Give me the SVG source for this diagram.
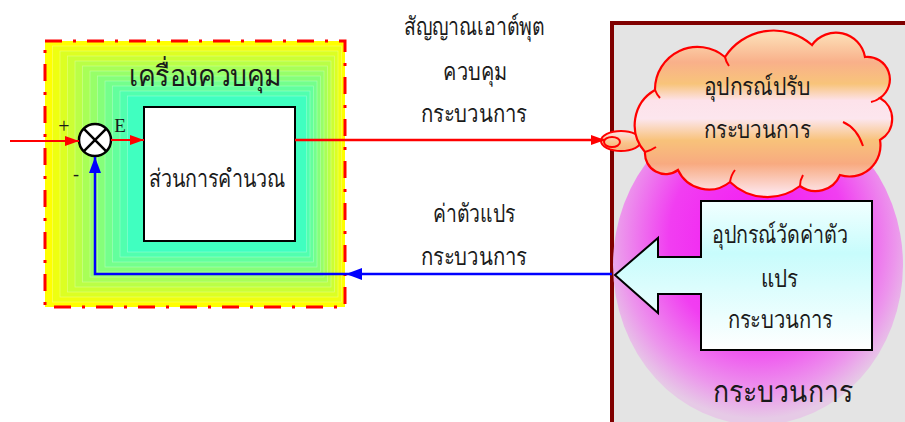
<svg xmlns="http://www.w3.org/2000/svg" width="905" height="422" viewBox="0 0 905 422">
<style>
.t{font-family:"Liberation Serif","DejaVu Serif",serif;fill:#1a1a1a;text-anchor:middle}
.band{stroke:#ffffff;stroke-opacity:0.35;stroke-width:0.7}
</style>
<defs>
<radialGradient id="mag" cx="0.5" cy="0.42" r="0.56">
<stop offset="0" stop-color="#f414f4"/>
<stop offset="0.55" stop-color="#f13ef1"/>
<stop offset="0.85" stop-color="#ec96ec"/>
<stop offset="1" stop-color="#e6cae6"/>
</radialGradient>
<linearGradient id="cloudg" x1="0" y1="0" x2="0" y2="1">
<stop offset="0.03" stop-color="#fcdcb4"/>
<stop offset="0.19" stop-color="#f9b08a"/>
<stop offset="0.32" stop-color="#f8c47a"/>
<stop offset="0.42" stop-color="#fde2ea"/>
<stop offset="0.53" stop-color="#fce6ee"/>
<stop offset="0.66" stop-color="#f8c27a"/>
<stop offset="0.8" stop-color="#f8aa80"/>
<stop offset="0.97" stop-color="#fde2e6"/>
</linearGradient>
<linearGradient id="bubg" x1="0" y1="0" x2="0" y2="1">
<stop offset="0" stop-color="#fde2ea"/>
<stop offset="0.6" stop-color="#f9c48a"/>
<stop offset="1" stop-color="#f8b080"/>
</linearGradient>
<linearGradient id="cyan" x1="0" y1="0" x2="0" y2="1">
<stop offset="0" stop-color="#f2ffff"/>
<stop offset="0.35" stop-color="#c8fcfc"/>
<stop offset="1" stop-color="#ffffff"/>
</linearGradient>
<marker id="ar" viewBox="0 0 14 10" refX="14" refY="5" markerWidth="14" markerHeight="10" markerUnits="userSpaceOnUse" orient="auto">
<path d="M0,0 L14,5 L0,10 Z" fill="#ff0000"/>
</marker>
<marker id="ab" viewBox="0 0 16 12" refX="16" refY="6" markerWidth="16" markerHeight="12" markerUnits="userSpaceOnUse" orient="auto">
<path d="M0,0 L16,6 L0,12 Z" fill="#0000ff"/>
</marker>
</defs>

<g id="controller">
<rect x="45" y="41" width="300" height="266" fill="#ffff00"/>
<rect class="band" x="52.5" y="46" width="289" height="256" fill="#eeff11"/>
<rect class="band" x="60" y="51" width="278" height="246" fill="#dcff23"/>
<rect class="band" x="67.5" y="56" width="267" height="236" fill="#cbff34"/>
<rect class="band" x="75" y="61" width="256" height="226" fill="#baff46"/>
<rect class="band" x="82.5" y="66" width="245" height="216" fill="#a8ff57"/>
<rect class="band" x="90" y="71" width="234" height="206" fill="#97ff69"/>
<rect class="band" x="97.5" y="76" width="223" height="196" fill="#85ff7a"/>
<rect class="band" x="105" y="81" width="212" height="186" fill="#74ff8c"/>
<rect class="band" x="112.5" y="86" width="201" height="176" fill="#63ff9d"/>
<rect class="band" x="120" y="91" width="190" height="166" fill="#51ffaf"/>
<rect class="band" x="127.5" y="96" width="179" height="156" fill="#40ffc0"/>
<rect x="45" y="41" width="300" height="266" fill="none" stroke="#ff0000" stroke-width="3" stroke-dasharray="17 11 3 11"/>
<text class="t" x="205" y="86" font-size="29" textLength="153" lengthAdjust="spacingAndGlyphs">เครื่องควบคุม</text>
</g>

<g id="calc">
<rect x="144" y="107" width="151" height="134" fill="#ffffff" stroke="#000000" stroke-width="2"/>
<text class="t" x="217" y="187" font-size="25" textLength="136" lengthAdjust="spacingAndGlyphs">ส่วนการคำนวณ</text>
</g>

<g id="sum">
<circle cx="95" cy="140" r="16" fill="#ffffff" stroke="#000000" stroke-width="2.5"/>
<path d="M83.7,128.7 L106.3,151.3 M106.3,128.7 L83.7,151.3" stroke="#000000" stroke-width="2.5"/>
<text class="t" x="64" y="133" font-size="20">+</text>
<text class="t" x="76" y="180" font-size="18">-</text>
<text class="t" x="120" y="132" font-size="19">E</text>
</g>

<g id="process">
<rect x="612" y="23" width="300" height="410" fill="#e4e4e4" stroke="#800000" stroke-width="4"/>
<ellipse cx="758" cy="265" rx="145" ry="160" fill="url(#mag)"/>
<text class="t" x="783" y="402" font-size="30" textLength="140" lengthAdjust="spacingAndGlyphs">กระบวนการ</text>
</g>

<g id="actuator">
<ellipse cx="621" cy="141" rx="20" ry="10" fill="url(#bubg)" stroke="#ff0000" stroke-width="2"/>
<path d="M645,152 A40.4,40.4 0 0 1 655,90 A42.5,42.5 0 0 1 725,57 A58,58 0 0 1 812,45 A29.5,29.5 0 0 1 865,57 A22.5,22.5 0 0 1 880,98 A24.2,24.2 0 0 1 880,140 A31,31 0 0 1 840,175 A26.5,26.5 0 0 1 800,186 A53.8,53.8 0 0 1 730,182 A33.9,33.9 0 0 1 678,170 A20.7,20.7 0 0 1 645,152 Z" fill="url(#cloudg)" stroke="#ff0000" stroke-width="2.2"/>
<path d="M655,90 q2,5 5,8 M725,57 q1,5 4,9 M880,98 q-4,3 -9,4 M843,122 q14,6 20,24 M800,186 q0,-6 3,-11 M730,182 q1,-7 5,-12 M645,152 q5,-1 11,-5" fill="none" stroke="#ff0000" stroke-width="2"/>
<ellipse cx="612" cy="142" rx="8" ry="5" fill="none" stroke="#ff0000" stroke-width="2"/>
<text class="t" x="757" y="95" font-size="25" textLength="107" lengthAdjust="spacingAndGlyphs">อุปกรณ์ปรับ</text>
<text class="t" x="757" y="138" font-size="25" textLength="107" lengthAdjust="spacingAndGlyphs">กระบวนการ</text>
</g>

<g id="sensor">
<path d="M615,275 L658,238 L658,257 L701,257 L701,201 L872,201 L872,350 L701,350 L701,294 L658,294 L658,313 Z" fill="url(#cyan)" stroke="#000000" stroke-width="2"/>
<text class="t" x="780" y="243" font-size="25" textLength="136" lengthAdjust="spacingAndGlyphs">อุปกรณ์วัดค่าตัว</text>
<text class="t" x="779" y="287" font-size="25" textLength="37" lengthAdjust="spacingAndGlyphs">แปร</text>
<text class="t" x="780" y="328" font-size="25" textLength="105" lengthAdjust="spacingAndGlyphs">กระบวนการ</text>
</g>

<g id="labels">
<text class="t" x="474" y="35" font-size="25" textLength="140" lengthAdjust="spacingAndGlyphs">สัญญาณเอาต์พุต</text>
<text class="t" x="475" y="80" font-size="25" textLength="64" lengthAdjust="spacingAndGlyphs">ควบคุม</text>
<text class="t" x="474" y="122" font-size="25" textLength="106" lengthAdjust="spacingAndGlyphs">กระบวนการ</text>
<text class="t" x="474" y="222" font-size="25" textLength="82" lengthAdjust="spacingAndGlyphs">ค่าตัวแปร</text>
<text class="t" x="474" y="265" font-size="25" textLength="106" lengthAdjust="spacingAndGlyphs">กระบวนการ</text>
</g>

<g id="connectors" fill="none">
<path d="M10,141 H79" stroke="#ff0000" stroke-width="2" marker-end="url(#ar)"/>
<path d="M111,140 H144" stroke="#ff0000" stroke-width="2" marker-end="url(#ar)"/>
<path d="M295,140 H605" stroke="#ff0000" stroke-width="2.5" marker-end="url(#ar)"/>
<path d="M612,274 H346" stroke="#0000ff" stroke-width="2.5" marker-end="url(#ab)"/>
<path d="M346,274 H95 V157" stroke="#0000ff" stroke-width="2.5" marker-end="url(#ab)"/>
</g>
</svg>
